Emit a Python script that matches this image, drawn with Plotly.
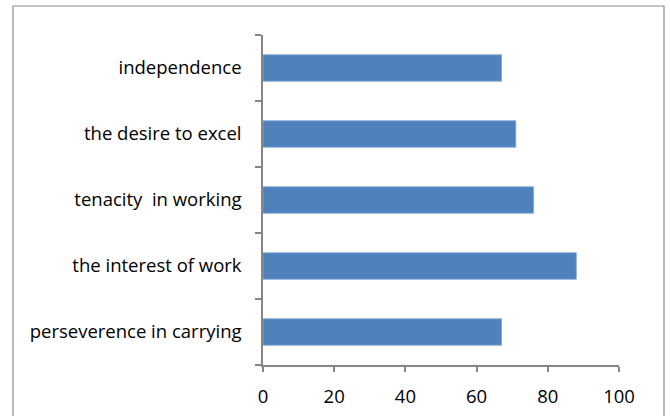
import plotly.graph_objects as go

categories = [
    "perseverence in carrying",
    "the interest of work",
    "tenacity \u00a0in working",
    "the desire to excel",
    "independence",
]
values = [67, 88, 76, 71, 67]
x_ticks = [0, 20, 40, 60, 80, 100]

W, H = 670, 416
ML, MR, MT, MB = 263, 51, 35, 51
pw = W - ML - MR
ph = H - MT - MB

fig = go.Figure(
    go.Bar(
        x=values,
        y=categories,
        orientation="h",
        marker=dict(color="#4F81BD", line=dict(color="#7EA3D3", width=0.8)),
        width=0.4,
    )
)

axis_color = "#868686"
font = dict(family="Open Sans", size=18.5, color="#000000")

fig.update_layout(
    width=W,
    height=H,
    margin=dict(l=ML, r=MR, t=MT, b=MB, autoexpand=False),
    paper_bgcolor="white",
    plot_bgcolor="white",
    showlegend=False,
    font=font,
    xaxis=dict(
        range=[0, 100],
        tickvals=x_ticks,
        showgrid=False,
        zeroline=False,
        showline=True,
        linecolor=axis_color,
        linewidth=1.5,
        ticks="outside",
        ticklen=5,
        tickwidth=1.5,
        tickcolor=axis_color,
        tickfont=font,
        ticklabelstandoff=9,
    ),
    yaxis=dict(
        categoryorder="array",
        categoryarray=categories,
        showgrid=False,
        zeroline=False,
        showline=True,
        linecolor=axis_color,
        linewidth=1.5,
        ticks="outside",
        tickson="boundaries",
        ticklen=6,
        tickwidth=1.5,
        tickcolor=axis_color,
        tickfont=font,
        ticklabelstandoff=16,
    ),
    shapes=[
        dict(
            type="rect",
            xref="paper",
            yref="paper",
            x0=(13 - ML) / pw,
            x1=(664 - ML) / pw,
            y0=(H - MB - 420) / ph,
            y1=(H - MB - 6) / ph,
            line=dict(color="#8C8C8C", width=1.2),
            fillcolor="rgba(0,0,0,0)",
            layer="below",
        )
    ],
)

fig.write_html(
    "out.html",
    config={"displayModeBar": False},
    post_script="document.body.style.margin='0';",
)
